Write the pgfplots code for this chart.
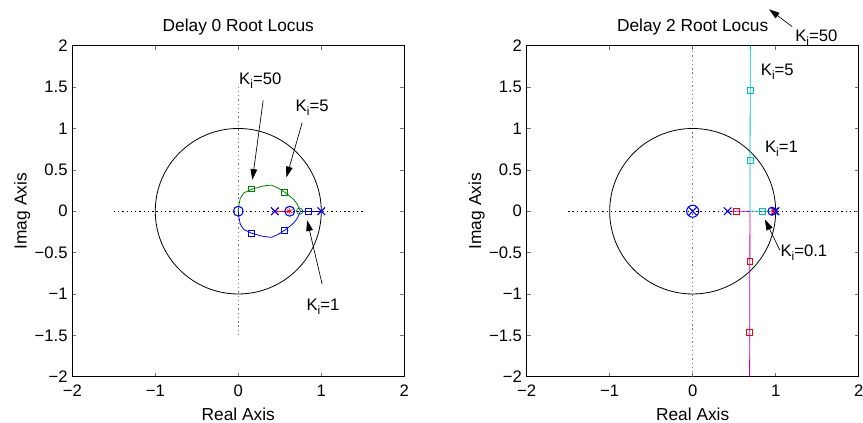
\documentclass[border=0pt]{standalone}
\usepackage{fontspec}
\setmainfont{Liberation Sans}
\usepackage{pgfplots}
\pgfplotsset{compat=1.18}
\usetikzlibrary{arrows.meta}

\definecolor{mblue}{rgb}{0,0,1}
\definecolor{mgreen}{rgb}{0,0.5,0}
\definecolor{mred}{rgb}{1,0,0}
\definecolor{mcyan}{rgb}{0,0.75,0.75}
\definecolor{mmag}{rgb}{0.75,0,0.75}

\newcommand{\Ki}[1]{K\raisebox{-0.45ex}{\fontsize{9}{9}\selectfont i}=#1}

\tikzset{
  arr/.style={-{Triangle[length=8pt,width=5pt]}, black, line width=0.5pt},
  lab/.style={font=\fontsize{12.5}{14}\selectfont, inner sep=0pt},
}

\pgfplotsset{
  rl/.style={
    scale only axis, width=249pt, height=248.25pt,
    anchor=south west,
    xmin=-2, xmax=2, ymin=-2, ymax=2,
    xtick={-2,-1,0,1,2}, ytick={-2,-1.5,-1,-0.5,0,0.5,1,1.5,2},
    xticklabels={−2,−1,0,1,2},
    yticklabels={−2,−1.5,−1,−0.5,0,0.5,1,1.5,2},
    tick align=inside, major tick length=3pt,
    tick style={black!55, line width=0.5pt},
    axis line style={black, line width=0.6pt},
    ticklabel style={font=\fontsize{12.5}{14}\selectfont},
    xticklabel style={anchor=base, yshift=-15pt},
    every axis title/.style={font=\fontsize{13}{15}\selectfont, at={(axis description cs:0.5,1)}, anchor=base, yshift=10.5pt, inner sep=0pt},
    xlabel style={font=\fontsize{13}{15}\selectfont, at={([yshift=-33pt]axis description cs:0.5,0)}, anchor=base},
    ylabel style={font=\fontsize{13}{15}\selectfont, at={([xshift=-37.5pt]axis description cs:0,0.5)}, anchor=center},
    xlabel={Real Axis}, ylabel={Imag Axis},
    clip=false,
    every axis plot/.append style={line width=0.6pt},
  },
  hdot/.style={black, dash pattern=on 1pt off 2.2pt, line width=0.7pt, no marks},
  vdot/.style={black!55, dash pattern=on 1pt off 2.2pt, line width=0.7pt, no marks},
  sq/.style={only marks, mark=square, mark size=2.2pt, mark options={line width=0.5pt}},
  ci/.style={only marks, mark=o, mark size=3.7pt, mark options={line width=0.8pt}},
  xx/.style={only marks, mark=x, mark size=4pt, mark options={line width=0.8pt}},
  st/.style={only marks, mark=asterisk, mark size=2.5pt, mark options={line width=0.5pt}},
}

\begin{document}
\begin{tikzpicture}
\useasboundingbox (0,0) rectangle (647.25pt,317.25pt);

% ---------------- Left: Delay 0 ----------------
\begin{axis}[rl, at={(54.2pt,34.7pt)}, title={Delay 0 Root Locus}]
  \addplot[hdot] coordinates {(-1.5,0) (1.5,0)};
  \addplot[vdot] coordinates {(0,-1.5) (0,1.5)};
  \draw[black, line width=0.6pt] (axis cs:0,0) ellipse [x radius=1, y radius=1];
  % branches
  \addplot[mred, no marks] coordinates {(0.44,0) (0.62,0)};
  \addplot[mblue, no marks] coordinates {(1.0,0) (0.75,0)};
  \addplot[mgreen, no marks] coordinates {
    (0.75,0) (0.73,0.045) (0.71,0.087) (0.67,0.14) (0.63,0.175) (0.56,0.23)
    (0.48,0.28) (0.40,0.315) (0.34,0.31) (0.28,0.30) (0.16,0.265) (0.065,0.22)
    (0.024,0.155) (0.008,0.075) (0,0)};
  \addplot[mblue, no marks] coordinates {
    (0.75,0) (0.73,-0.045) (0.71,-0.087) (0.67,-0.14) (0.63,-0.175) (0.56,-0.23)
    (0.48,-0.28) (0.40,-0.315) (0.34,-0.31) (0.28,-0.30) (0.16,-0.265) (0.065,-0.22)
    (0.024,-0.155) (0.008,-0.075) (0,0)};
  % gain markers
  \addplot[mgreen, sq] coordinates {(0.16,0.27) (0.56,0.23)};
  \addplot[mblue, sq] coordinates {(0.16,-0.27) (0.56,-0.23) (0.84,0)};
  \addplot[mgreen, only marks, mark=o, mark size=2.4pt, mark options={line width=0.5pt}] coordinates {(0.74,0)};
  % poles and zeros
  \addplot[mblue, ci] coordinates {(0,0) (0.62,0)};
  \addplot[mred, st] coordinates {(0.62,0)};
  \addplot[mred, xx, mark options={line width=0.8pt, dash pattern=on 0.8pt off 0.6pt}] coordinates {(0.44,0)};
  \addplot[mblue, xx] coordinates {(0.44,0) (1.0,0)};
  % annotations
  \draw[arr] (axis cs:0.30,1.34) -- (axis cs:0.17,0.38);
  \node[lab] at (axis cs:0.265,1.58) {\Ki{50}};
  \draw[arr] (axis cs:0.77,1.07) -- (axis cs:0.58,0.41);
  \node[lab] at (axis cs:0.89,1.25) {\Ki{5}};
  \draw[arr] (axis cs:1.01,-0.88) -- (axis cs:0.83,-0.11);
  \node[lab] at (axis cs:1.02,-1.15) {\Ki{1}};
\end{axis}

% ---------------- Right: Delay 2 ----------------
\begin{axis}[rl, at={(395.0pt,34.7pt)}, title={Delay 2 Root Locus}]
  \addplot[hdot] coordinates {(-1.5,0) (2,0)};
  \addplot[vdot] coordinates {(0,-2) (0,2)};
  \draw[black, line width=0.6pt] (axis cs:0,0) ellipse [x radius=1, y radius=1];
  % branches
  \addplot[mmag, no marks] coordinates {(0.42,0) (0.69,0) (0.688,-1) (0.686,-2)};
  \addplot[mcyan, no marks] coordinates {(0.96,0) (0.69,0) (0.692,1) (0.695,2)};
  % gain markers
  \addplot[mcyan, sq] coordinates {(0.84,0) (0.69,0.61) (0.692,1.46)};
  \addplot[mred, sq] coordinates {(0.53,0) (0.688,-0.61) (0.687,-1.46)};
  % poles and zeros
  \addplot[mblue, ci, mark size=4.5pt] coordinates {(0,0)};
  \addplot[mblue, ci, mark size=3pt] coordinates {(0.955,0)};
  \addplot[mblue, xx, mark size=4.3pt] coordinates {(0,0)};
  \addplot[mblue, xx] coordinates {(0.42,0) (0.99,0) (1.0,0)};
  \addplot[mred, st, mark size=2pt] coordinates {(0.97,0)};
  % annotations
  \draw[arr] (axis cs:1.20,2.23) -- (axis cs:0.92,2.44);
  \node[lab] at (axis cs:1.49,2.10) {\Ki{50}};
  \node[lab] at (axis cs:1.02,1.68) {\Ki{5}};
  \node[lab] at (axis cs:1.07,0.76) {\Ki{1}};
  \draw[arr] (axis cs:1.05,-0.47) -- (axis cs:0.87,-0.10);
  \node[lab] at (axis cs:1.34,-0.50) {\Ki{0.1}};
\end{axis}
\end{tikzpicture}
\end{document}
